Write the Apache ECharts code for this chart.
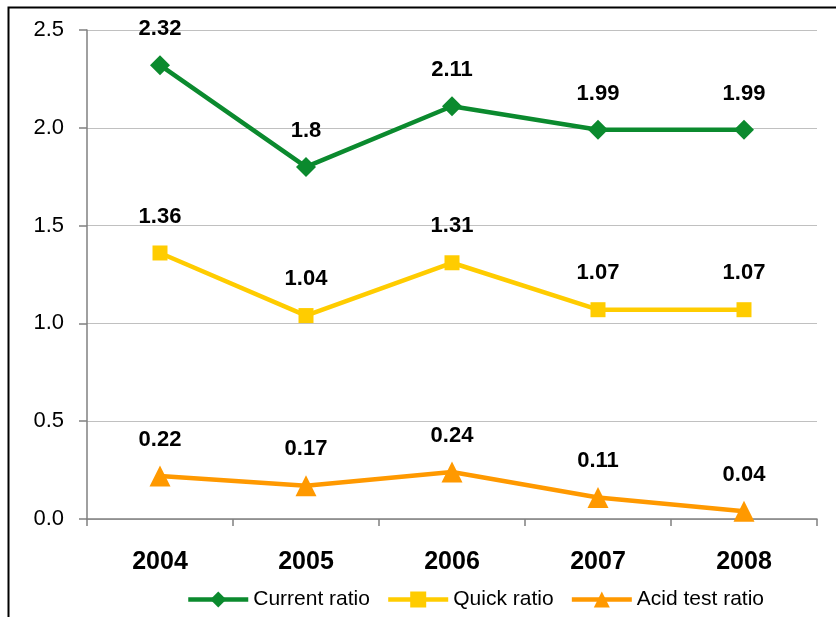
<!DOCTYPE html>
<html>
<head>
<meta charset="utf-8">
<title>Liquidity ratios 2004–2008</title>
<script src="https://cdn.jsdelivr.net/npm/echarts@6/dist/echarts.min.js"></script>
<style>
  html, body { margin: 0; padding: 0; background: #fff; }
  #chart { width: 836px; height: 617px; }
</style>
</head>
<body>
<div id="chart"></div>
<script>
// Years on the category axis
var years = ['2004', '2005', '2006', '2007', '2008'];

// Ratio values per year
var currentRatio = [2.32, 1.8, 2.11, 1.99, 1.99];
var quickRatio = [1.36, 1.04, 1.31, 1.07, 1.07];
var acidTestRatio = [0.22, 0.17, 0.24, 0.11, 0.04];

// Value axis range
var yMin = 0, yMax = 2.5, yStep = 0.5;

var axisFont = '"Liberation Sans Narrow", "Liberation Sans", Arial, sans-serif';
var labelFont = '"Liberation Sans", Arial, sans-serif';

function lineSeries(name, data, color, symbol, size, dist) {
  return {
    name: name,
    type: 'line',
    data: data,
    symbol: symbol,
    symbolSize: size,
    lineStyle: { color: color, width: 4.5 },
    itemStyle: { color: color },
    label: {
      show: true,
      position: 'top',
      distance: dist,
      fontFamily: labelFont,
      fontWeight: 'bold',
      fontSize: 22,
      color: '#000',
      formatter: function (p) { return String(p.value); }
    },
    emphasis: { disabled: true },
    animation: false
  };
}

var chart = echarts.init(document.getElementById('chart'), null, { renderer: 'canvas' });
chart.setOption({
  backgroundColor: '#fff',
  animation: false,
  graphic: [{
    type: 'rect',
    left: 6, top: 5,
    shape: { width: 900, height: 700 },
    style: { fill: 'none', stroke: '#000', lineWidth: 2 },
    silent: true
  }],
  grid: { left: 87, right: 19, top: 30, bottom: 98, containLabel: false },
  xAxis: {
    type: 'category',
    data: years,
    boundaryGap: true,
    axisLine: { lineStyle: { color: '#808080', width: 1.5 } },
    axisTick: { show: true, inside: false, length: 7, alignWithLabel: false, lineStyle: { color: '#808080', width: 1.5 } },
    axisLabel: { fontFamily: axisFont, fontWeight: 'bold', fontSize: 25, color: '#000', margin: 31 },
    splitLine: { show: false }
  },
  yAxis: {
    type: 'value',
    min: yMin, max: yMax, interval: yStep,
    axisLine: { show: true, lineStyle: { color: '#808080', width: 1.5 } },
    axisTick: { show: true, inside: false, length: 8, lineStyle: { color: '#808080', width: 1.5 } },
    axisLabel: {
      fontFamily: axisFont, fontSize: 22, color: '#000', margin: 23,
      formatter: function (v) { return v.toFixed(1); }
    },
    splitLine: { show: true, lineStyle: { color: '#c0c0c0', width: 1 } }
  },
  legend: {
    bottom: 7,
    left: 186,
    padding: 0,
    itemWidth: 60,
    itemHeight: 20,
    itemGap: 16,
    lineStyle: { width: 4.5 },
    textStyle: { fontFamily: labelFont, fontSize: 21, color: '#000', padding: [0, 0, 0, 0] },
    data: ['Current ratio', 'Quick ratio', 'Acid test ratio']
  },
  series: [
    lineSeries('Current ratio', currentRatio, '#0b8a2e', 'diamond', 20, 15),
    lineSeries('Quick ratio', quickRatio, '#ffcc00', 'rect', 15, 18),
    lineSeries('Acid test ratio', acidTestRatio, '#ff9900', 'triangle', 21, 15)
  ]
});
</script>
</body>
</html>
